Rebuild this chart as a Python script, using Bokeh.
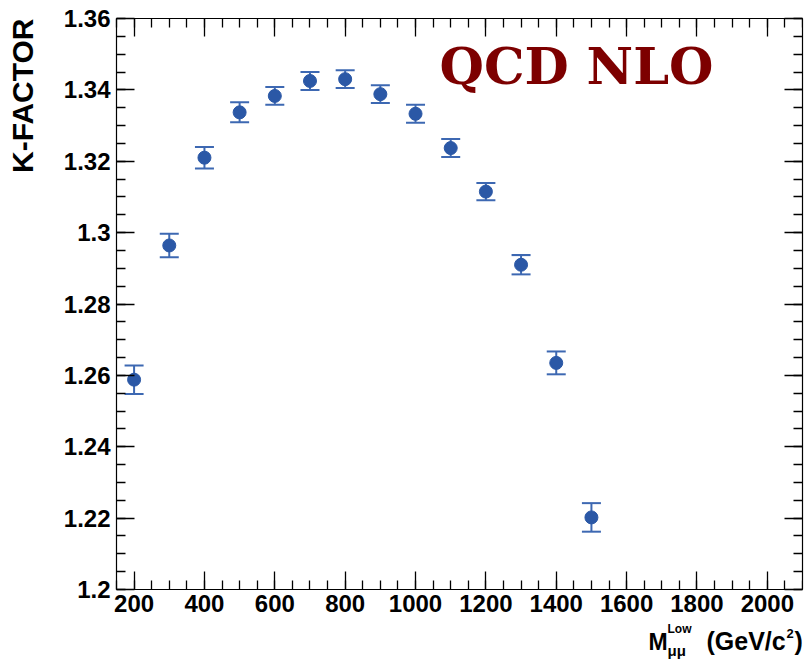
import math

from bokeh.embed import file_html
from bokeh.models import (ColumnDataSource, CustomJSTickFormatter, Label,
                          LinearAxis, Range1d, SingleIntervalTicker, TeeHead,
                          Whisker)
from bokeh.plotting import figure
from bokeh.resources import INLINE

# ---- data: NLO K-factor versus lower dimuon mass cut ----
mass_low = [200, 300, 400, 500, 600, 700, 800, 900, 1000, 1100, 1200, 1300, 1400, 1500]
k_factor = [1.2588, 1.2964, 1.3210, 1.3337, 1.3383, 1.3425, 1.3430, 1.3388,
            1.3333, 1.3237, 1.3115, 1.2910, 1.2635, 1.2202]
k_error = [0.0040, 0.0033, 0.0030, 0.0028, 0.0025, 0.0025, 0.0025, 0.0025,
           0.0025, 0.0025, 0.0024, 0.0027, 0.0032, 0.0040]

x_start, x_end = 150, 2100
y_start, y_end = 1.2, 1.36

# ---- layout ----
W, H = 804, 659
LEFT, RIGHT, TOP = 116, 2, 18
BOX_W = W - LEFT - RIGHT          # width of the axes box (150 .. 2100)
BOX_H = 571                       # height of the axes box (1.2 .. 1.36)

# The plotting frame covers the margins on the left, top and bottom, so the
# axis titles (with sub/superscripts) and the outer tick labels can be drawn
# unclipped; the box axes are pinned to the box edges and trimmed with bounds.
x_floor = x_start - LEFT / BOX_W * (x_end - x_start)
y_floor = y_end - (H - TOP) / BOX_H * (y_end - y_start)
y_ceil = y_end + TOP / BOX_H * (y_end - y_start)

FONT = "Liberation Sans"
MARK = "#2b58a6"
BAR = "#3d68b2"


def to_data(px, py):
    """Canvas pixel -> data coordinates (used to place free text)."""
    x = x_start + (px - LEFT) / BOX_W * (x_end - x_start)
    y = y_end - (py - TOP) / BOX_H * (y_end - y_start)
    return x, y


p = figure(width=W, height=H, x_range=Range1d(x_floor, x_end),
           y_range=Range1d(y_floor, y_ceil), output_backend="svg",
           toolbar_location=None, x_axis_type=None, y_axis_type=None)
p.min_border = 0
p.min_border_left = 0
p.min_border_right = RIGHT
p.min_border_top = 0
p.min_border_bottom = 0
p.background_fill_color = "white"
p.border_fill_color = "white"
p.outline_line_color = None
p.xgrid.visible = False
p.ygrid.visible = False

y_fmt = CustomJSTickFormatter(code="return String(Math.round(tick * 100) / 100);")
blank_fmt = CustomJSTickFormatter(code="return '';")


def make_axis(kind, show_labels):
    if kind == "x":
        ticker = SingleIntervalTicker(interval=200, num_minor_ticks=4)
        bounds = (x_start, x_end)
    else:
        ticker = SingleIntervalTicker(interval=0.02, num_minor_ticks=4)
        bounds = (y_start, y_end)
    ax = LinearAxis(ticker=ticker, bounds=bounds)
    ax.axis_line_color = "black"
    ax.axis_line_width = 1.2
    ax.major_tick_line_color = "black"
    ax.minor_tick_line_color = "black"
    ax.major_tick_line_width = 1.3
    ax.minor_tick_line_width = 1.3
    ax.major_tick_in = 18
    ax.major_tick_out = 0
    ax.minor_tick_in = 9
    ax.minor_tick_out = 0
    if show_labels:
        if kind == "y":
            ax.formatter = y_fmt
        ax.major_label_text_font = FONT
        ax.major_label_text_font_style = "bold"
        ax.major_label_text_font_size = "24px"
        ax.major_label_text_color = "black"
        ax.major_label_standoff = 6 if kind == "y" else 5
    else:
        ax.formatter = blank_fmt
        ax.major_label_standoff = 0
    return ax


x_bottom = make_axis("x", True)
x_bottom.fixed_location = y_start
p.add_layout(x_bottom, "below")
y_left = make_axis("y", True)
y_left.fixed_location = x_start
p.add_layout(y_left, "left")
x_top = make_axis("x", False)
x_top.fixed_location = y_end
p.add_layout(x_top, "above")
p.add_layout(make_axis("y", False), "right")

# ---- points with error bars ----
src = ColumnDataSource(dict(
    x=mass_low,
    y=k_factor,
    upper=[v + e for v, e in zip(k_factor, k_error)],
    lower=[v - e for v, e in zip(k_factor, k_error)],
))

whisker = Whisker(source=src, base="x", upper="upper", lower="lower",
                  dimension="height", line_color=BAR, line_width=2,
                  upper_head=TeeHead(size=19, line_color=BAR, line_width=2),
                  lower_head=TeeHead(size=19, line_color=BAR, line_width=2))
p.add_layout(whisker)
p.scatter("x", "y", source=src, marker="circle", size=13,
          fill_color=MARK, line_color=MARK)

# ---- texts ----
kx, ky = to_data(22, TOP)
p.add_layout(Label(x=kx, y=ky, text="K-FACTOR", angle=math.pi / 2,
                   text_align="right", text_baseline="alphabetic",
                   text_font=FONT, text_font_style="bold",
                   text_font_size="30px", text_color="black"))

tx, ty = to_data(576, 65)
p.add_layout(Label(x=tx, y=ty, text="QCD NLO", text_align="center",
                   text_baseline="alphabetic", text_font="DejaVu Serif",
                   text_font_style="bold", text_font_size="51px",
                   text_color="#7d0000"))

# x-axis title: M_{μμ}^{Low} (GeV/c^{2})
# (text, left edge px, baseline px, font size px)
title_parts = [
    ("M", 648, 641, 23),
    ("Low", 667, 628, 12),
    ("\u03bc\u03bc", 667, 650, 15),
    ("(GeV/c", 706, 640, 25),
    ("2", 786, 633, 13),
    (")", 794, 640, 25),
]
for txt, px, py, size in title_parts:
    x, y = to_data(px, py)
    p.add_layout(Label(x=x, y=y, text=txt, text_align="left",
                       text_baseline="alphabetic", text_font=FONT,
                       text_font_style="bold", text_font_size=f"{size}px",
                       text_color="black"))

open("out.html", "w").write(file_html(p, INLINE))
